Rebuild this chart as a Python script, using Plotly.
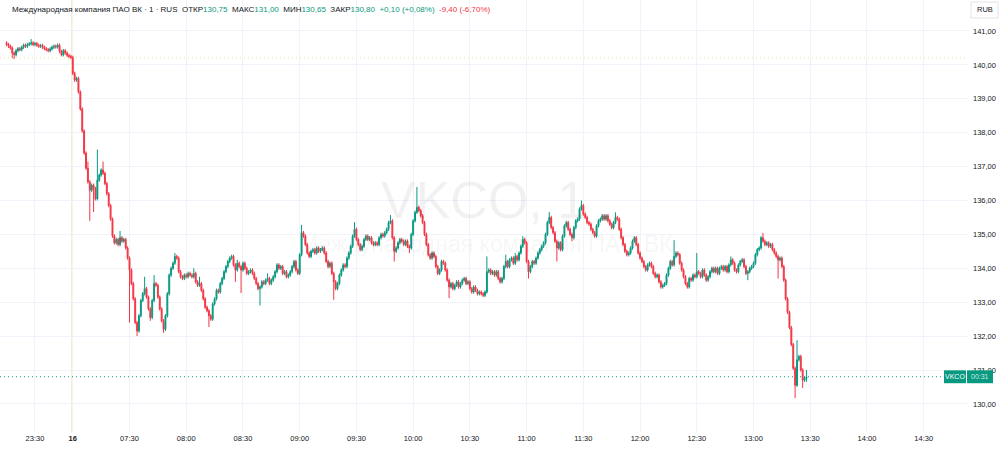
import plotly.graph_objects as go

# ---------------- data ----------------
TIME_LABEL_BARS = [15, 35, 65, 95, 125, 155, 185, 215, 245, 275, 305, 335, 365, 395, 425, 455, 485]
TIME_LABELS = ["23:30", "<b>16</b>", "07:30", "08:00", "08:30", "09:00", "09:30", "10:00", "10:30",
               "11:00", "11:30", "12:00", "12:30", "13:00", "13:30", "14:00", "14:30"]
PRICE_TICKS = [130, 131, 132, 133, 134, 135, 136, 137, 138, 139, 140, 141]
PRICE_TICK_TEXT = ["130,00", "131,00", "132,00", "133,00", "134,00", "135,00", "136,00",
                   "137,00", "138,00", "139,00", "140,00", "141,00"]

OPEN_FIRST = 140.65
CLOSE_PREV_DAY = [
    140.60, 140.55, 140.50, 140.35, 140.30, 140.42, 140.48, 140.45, 140.52, 140.58,
    140.55, 140.60, 140.62, 140.65, 140.60, 140.63, 140.58, 140.55, 140.57, 140.52,
    140.48, 140.45, 140.42, 140.47, 140.52, 140.55, 140.53, 140.58, 140.40, 140.30,
    140.42, 140.35, 140.28, 140.25, 140.22,
]
CLOSE_DAY = [
    139.75, 139.55, 139.60, 139.20, 138.70, 138.05, 137.40, 136.95, 136.55, 136.30,
    136.45, 136.35, 136.05, 136.60, 136.75, 136.90, 136.80, 136.50, 136.20, 135.85,
    135.45, 134.95, 134.75, 134.85, 134.70, 134.90, 134.80, 134.85, 134.60, 134.30,
    133.95, 133.55, 133.10, 132.40, 132.15, 132.60, 133.05, 133.25, 133.40, 133.15,
    132.80, 132.55, 133.05, 133.55, 133.50, 133.15, 132.80, 132.45, 132.20, 132.60,
    133.25, 133.80, 134.00, 134.15, 134.35, 134.30, 133.90, 133.75, 133.70, 133.80,
    133.75, 133.85, 133.80, 133.75, 133.85, 133.60, 133.50, 133.55, 133.35, 133.10,
    132.85, 132.75, 132.60, 132.50, 132.95, 133.10, 133.35, 133.30, 133.55, 133.70,
    133.90, 134.05, 134.20, 134.30, 134.35, 134.10, 133.95, 134.15, 134.05, 133.95,
    134.15, 134.00, 133.85, 133.90, 133.95, 133.85, 133.70, 133.55, 133.40, 133.45,
    133.60, 133.55, 133.65, 133.70, 133.55, 133.65, 133.75, 133.90, 134.10, 134.00,
    134.05, 133.85, 133.90, 133.75, 133.80, 133.90, 134.05, 134.20, 133.95, 133.85,
    134.40, 135.05, 134.95, 134.70, 134.45, 134.35, 134.50, 134.55, 134.45, 134.60,
    134.50, 134.55, 134.60, 134.45, 134.20, 134.05, 134.15, 133.85, 133.60, 133.40,
    133.55, 133.80, 133.95, 134.10, 134.05, 134.30, 134.45, 134.65, 134.95, 135.15,
    134.85, 134.70, 134.55, 134.65, 134.85, 134.95, 134.85, 134.90, 134.75, 134.70,
    134.75, 134.70, 134.90, 135.00, 134.95, 135.05, 135.15, 135.35, 135.40, 134.90,
    134.50, 134.60, 134.75, 134.85, 134.80, 134.70, 134.80, 134.65, 134.60, 135.00,
    135.40, 135.65, 135.80, 135.70, 135.55, 135.35, 135.00, 134.70, 134.40, 134.30,
    134.45, 134.35, 134.05, 133.85, 133.95, 134.20, 134.15, 133.95, 133.65, 133.45,
    133.55, 133.40, 133.50, 133.60, 133.45, 133.55, 133.65, 133.70, 133.55, 133.60,
    133.40, 133.30, 133.45, 133.35, 133.25, 133.30, 133.25, 133.20, 133.30, 133.90,
    133.95, 133.85, 133.90, 133.80, 133.90, 133.70, 133.60, 133.70, 134.05, 134.20,
    134.05, 134.25, 134.30, 134.15, 134.35, 134.25, 134.45, 134.65, 134.85, 134.75,
    134.20, 133.90, 134.05, 134.20, 134.15, 134.30, 134.45, 134.55, 134.65, 134.75,
    135.00, 135.35, 135.50, 135.20, 135.05, 134.80, 134.60, 134.75, 134.55, 134.95,
    135.25, 135.35, 135.15, 135.00, 134.90, 135.20, 135.40, 135.45, 135.75, 135.85,
    135.60, 135.50, 135.35, 135.30, 135.15, 135.05, 134.95, 135.25, 135.40, 135.45,
    135.55, 135.45, 135.55, 135.40, 135.30, 135.20, 135.35, 135.50, 135.45, 135.15,
    134.90, 134.70, 134.50, 134.40, 134.45, 134.60, 134.80, 134.90, 134.70, 134.45,
    134.30, 134.20, 134.05, 133.95, 134.10, 134.15, 134.05, 133.85, 133.75, 133.80,
    133.60, 133.45, 133.50, 133.55, 133.80, 134.00, 134.20, 134.10, 134.35, 134.45,
    134.40, 134.15, 133.95, 133.75, 133.55, 133.45, 133.70, 133.65, 133.80, 133.75,
    133.90, 133.85, 133.75, 133.95, 133.80, 133.65, 133.75, 133.90, 134.00, 133.90,
    134.00, 133.85, 134.00, 134.05, 133.95, 134.05, 133.90, 134.10, 134.25, 134.15,
    133.95, 133.90, 134.10, 134.20, 134.25, 134.05, 133.85, 133.90, 134.00, 134.05,
    134.15, 134.40, 134.55, 134.60, 134.90, 134.80, 134.70, 134.75, 134.65, 134.70,
    134.55, 134.45, 134.35, 134.25, 134.30, 134.05, 133.65, 133.10, 132.70, 132.25,
    131.75, 131.05, 130.55, 131.30, 131.40, 131.00, 130.70, 130.75, 130.80,
]
# notable wick extremes (bar index -> price)
HIGH_WICKS = {13: 140.76, 43: 137.15, 48: 137.50, 51: 137.15, 60: 135.10, 73: 133.75, 78: 133.80,
              89: 134.45, 99: 134.00, 102: 133.75, 122: 134.25, 138: 133.85, 152: 134.25, 156: 135.28,
              184: 135.36, 191: 135.00, 203: 135.57, 217: 136.40, 254: 134.35, 264: 134.40,
              269: 134.45, 273: 134.95, 287: 135.66, 304: 136.00, 315: 135.60, 322: 135.65,
              353: 134.83, 365: 134.45, 383: 134.35, 400: 135.04, 418: 131.88, 423: 131.00}
LOW_WICKS = {3: 140.20, 4: 140.17, 44: 135.40, 46: 135.66, 65: 132.40, 69: 132.00, 76: 132.45,
             83: 132.10, 107: 132.27, 121: 133.60, 124: 133.27, 134: 132.90, 160: 134.30, 173: 133.07,
             205: 134.20, 213: 134.45, 234: 133.12, 276: 133.70, 291: 134.20, 299: 134.80,
             392: 133.65, 408: 133.70, 417: 130.17, 421: 130.47, 423: 130.65}
PRICE_STEP = 0.05
PREV_CLOSE = 140.20
SESSION_BREAK_BAR = 34.3

# ---------------- build ----------------
close = CLOSE_PREV_DAY + CLOSE_DAY
bars = list(range(len(close)))
opens = [OPEN_FIRST] + close[:-1]
highs = [HIGH_WICKS.get(i, max(o, c) + PRICE_STEP) for i, (o, c) in enumerate(zip(opens, close))]
lows = [LOW_WICKS.get(i, min(o, c) - PRICE_STEP) for i, (o, c) in enumerate(zip(opens, close))]
last = close[-1]

UP = "#089981"
DOWN = "#F23645"
GRID = "#f0f3fa"
TXT = "#131722"
FONT = "Liberation Sans, Arial, sans-serif"

fig = go.Figure(go.Candlestick(
    x=bars, open=opens, high=highs, low=lows, close=close,
    increasing=dict(line=dict(color=UP, width=1), fillcolor=UP),
    decreasing=dict(line=dict(color=DOWN, width=1), fillcolor=DOWN),
    whiskerwidth=0, hoverinfo="skip", showlegend=False,
))

PW, PH = 967, 432  # plot area in px

fig.update_layout(
    width=1000, height=452, autosize=False,
    margin=dict(l=0, r=1000 - PW, t=0, b=452 - PH),
    paper_bgcolor="white", plot_bgcolor="white",
    font=dict(family=FONT, color=TXT, size=8),
    xaxis=dict(range=[-3.49, 507.9], tickmode="array", tickvals=TIME_LABEL_BARS, ticktext=TIME_LABELS,
               showgrid=True, gridcolor=GRID, gridwidth=1, zeroline=False, showline=False,
               ticks="", tickfont=dict(size=7.5, color=TXT), rangeslider=dict(visible=False),
               fixedrange=True),
    yaxis=dict(range=[129.171, 141.914], side="right", tickmode="array", tickvals=PRICE_TICKS,
               ticktext=PRICE_TICK_TEXT, showgrid=True, gridcolor=GRID, gridwidth=1,
               zeroline=False, showline=False, ticks="", tickfont=dict(size=7.5, color=TXT),
               ticklabelstandoff=5, fixedrange=True),
)

shapes = [
    # session break
    dict(type="line", xref="x", yref="paper", x0=SESSION_BREAK_BAR, x1=SESSION_BREAK_BAR, y0=0, y1=1,
         line=dict(color="#f4eccb", width=1), layer="below"),
    # previous close
    dict(type="line", xref="paper", yref="y", x0=0, x1=1, y0=PREV_CLOSE, y1=PREV_CLOSE,
         line=dict(color="rgba(240,185,70,0.5)", width=1, dash="1px,3px"), layer="below"),
    # last price line
    dict(type="line", xref="paper", yref="y", x0=0, x1=944 / PW, y0=last, y1=last,
         line=dict(color=UP, width=1, dash="1px,3px")),
    # last price labels
    dict(type="rect", xref="paper", yref="y", x0=944 / PW, x1=966 / PW, y0=last - 0.19, y1=last + 0.19,
         fillcolor=UP, line=dict(width=0)),
    dict(type="rect", xref="paper", yref="y", x0=967 / PW, x1=993 / PW, y0=last - 0.19, y1=last + 0.19,
         fillcolor=UP, line=dict(width=0)),
    # currency box
    dict(type="rect", xref="paper", yref="paper", x0=971 / PW, x1=998 / PW, y0=1 - 18 / PH, y1=1 - 2 / PH,
         fillcolor="white", line=dict(color="#e0e3eb", width=1)),
]
fig.update_layout(shapes=shapes)

G = UP
R = DOWN
header = ("Международная компания ПАО ВК · 1 · RUS&nbsp;&nbsp;"
          f"ОТКР<span style='color:{G}'>130,75</span>&nbsp;&nbsp;"
          f"МАКС<span style='color:{G}'>131,00</span>&nbsp;&nbsp;"
          f"МИН<span style='color:{G}'>130,65</span>&nbsp;&nbsp;"
          f"ЗАКР<span style='color:{G}'>130,80</span>&nbsp;&nbsp;"
          f"<span style='color:{G}'>+0,10 (+0,08%)</span>&nbsp;&nbsp;"
          f"<span style='color:{R}'>-9,40 (-6,70%)</span>")

annotations = [
    dict(text="VKCO, 1", xref="paper", yref="paper", x=483 / PW, y=1 - 200 / PH, showarrow=False,
         font=dict(size=52, color="rgba(0,0,0,0.055)", family=FONT), xanchor="center", yanchor="middle"),
    dict(text="Международная компания ПАО ВК", xref="paper", yref="paper", x=486 / PW, y=1 - 244 / PH,
         showarrow=False, font=dict(size=23, color="rgba(0,0,0,0.055)", family=FONT),
         xanchor="center", yanchor="middle"),
    dict(text=header, xref="paper", yref="paper", x=10 / PW, y=1 - 10 / PH, showarrow=False,
         xanchor="left", yanchor="middle", font=dict(size=8, color=TXT, family=FONT)),
    dict(text="VKCO", xref="paper", yref="y", x=955 / PW, y=last, showarrow=False,
         xanchor="center", yanchor="middle", font=dict(size=7, color="white", family=FONT)),
    dict(text="00:31", xref="paper", yref="y", x=980 / PW, y=last, showarrow=False,
         xanchor="center", yanchor="middle", font=dict(size=7, color="#c8ebe4", family=FONT)),
    dict(text="RUB", xref="paper", yref="paper", x=984.5 / PW, y=1 - 10 / PH, showarrow=False,
         xanchor="center", yanchor="middle", font=dict(size=7.5, color=TXT, family=FONT)),
]
fig.update_layout(annotations=annotations)

fig.write_html("out.html", config={"displayModeBar": False})
